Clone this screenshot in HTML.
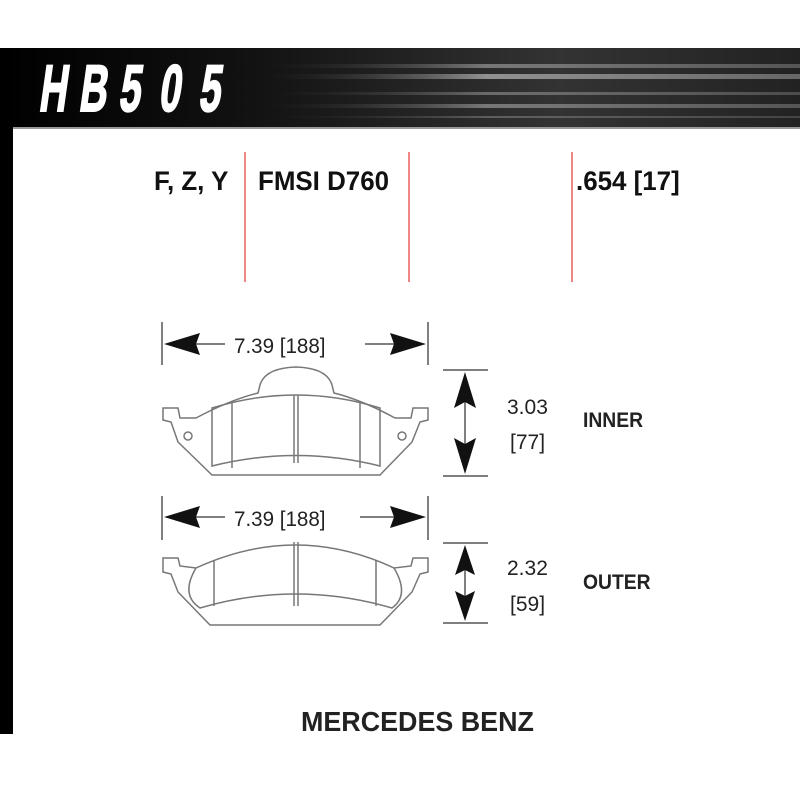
<!DOCTYPE html>
<html><head><meta charset="utf-8"><style>
html,body{margin:0;padding:0;background:#fff}
svg{display:block}
text{font-family:"Liberation Sans",sans-serif}
</style></head><body>
<svg width="800" height="800" viewBox="0 0 800 800" xmlns="http://www.w3.org/2000/svg">
<defs>
<linearGradient id="g" x1="0" y1="0" x2="1" y2="0">
<stop offset="0" stop-color="#000"/><stop offset="0.3" stop-color="#111"/><stop offset="0.7" stop-color="#333"/><stop offset="1" stop-color="#222"/>
</linearGradient>
<linearGradient id="s" x1="0" y1="0" x2="1" y2="0">
<stop offset="0" stop-color="#000" stop-opacity="0"/><stop offset="0.45" stop-color="#aaa"/><stop offset="1" stop-color="#777"/>
</linearGradient>
</defs>
<rect x="0" y="48" width="800" height="80" fill="url(#g)"/>
<rect x="230" y="64" width="570" height="4" fill="url(#s)" opacity="0.6"/>
<rect x="230" y="74" width="570" height="5" fill="url(#s)" opacity="0.8"/>
<rect x="230" y="92" width="570" height="3" fill="url(#s)" opacity="0.5"/>
<rect x="230" y="104" width="570" height="4" fill="url(#s)" opacity="0.6"/>
<rect x="230" y="116" width="570" height="2" fill="url(#s)" opacity="0.4"/>
<rect x="0" y="48" width="13" height="686" fill="#000"/>
<rect x="13" y="127" width="787" height="2" fill="#999"/>
<g fill="#fff" stroke="#fff" stroke-width="2" font-weight="bold" font-size="66">
<text transform="translate(38,111) skewX(-8) scale(0.58,1)">H</text>
<text transform="translate(78,111) skewX(-8) scale(0.58,1)">B</text>
<text transform="translate(118,111) skewX(-8) scale(0.58,1)">5</text>
<text transform="translate(158,111) skewX(-8) scale(0.58,1)">0</text>
<text transform="translate(198,111) skewX(-8) scale(0.58,1)">5</text>
</g>
<g font-weight="bold" font-size="27" fill="#111">
<text transform="translate(154,190) scale(0.96,1)">F, Z, Y</text>
<text transform="translate(258,190) scale(0.96,1)">FMSI D760</text>
<text transform="translate(576,190) scale(0.96,1)">.654 [17]</text>
</g>
<g stroke="#e88" stroke-width="2">
<line x1="245" y1="152" x2="245" y2="282"/>
<line x1="409" y1="152" x2="409" y2="282"/>
<line x1="572" y1="152" x2="572" y2="282"/>
</g>
<g stroke="#555" stroke-width="1.5" fill="none">
<line x1="162" y1="322" x2="162" y2="365"/><line x1="428" y1="322" x2="428" y2="365"/>
<line x1="162" y1="496" x2="162" y2="540"/><line x1="428" y1="496" x2="428" y2="540"/>
<line x1="195" y1="344" x2="225" y2="344"/><line x1="365" y1="344" x2="400" y2="344"/>
<line x1="195" y1="517" x2="225" y2="517"/><line x1="360" y1="517" x2="400" y2="517"/>
<line x1="443" y1="370" x2="488" y2="370"/><line x1="443" y1="476" x2="488" y2="476"/>
<line x1="443" y1="543" x2="488" y2="543"/><line x1="443" y1="623" x2="488" y2="623"/>
<line x1="465" y1="395" x2="465" y2="450"/><line x1="465" y1="565" x2="465" y2="600"/>
</g>
<g fill="#111">
<polygon points="164,344 200,333 196,344 200,355"/>
<polygon points="426,344 390,333 394,344 390,355"/>
<polygon points="164,517 200,506 196,517 200,528"/>
<polygon points="426,517 390,506 394,517 390,528"/>
<polygon points="465,372 454,408 465,402 476,408"/>
<polygon points="465,474 454,438 465,444 476,438"/>
<polygon points="465,545 455,575 465,570 475,575"/>
<polygon points="465,621 455,591 465,596 475,591"/>
</g>
<g font-size="21" fill="#222">
<text transform="translate(234,353) scale(0.98,1)">7.39 [188]</text>
<text transform="translate(234,526) scale(0.98,1)">7.39 [188]</text>
<text x="507" y="414">3.03</text><text x="510" y="449">[77]</text>
<text x="507" y="575">2.32</text><text x="510" y="611">[59]</text>
</g>
<g font-weight="bold" font-size="21" fill="#222">
<text transform="translate(583,427) scale(0.92,1)">INNER</text>
<text transform="translate(583,589) scale(0.92,1)">OUTER</text>
<text transform="translate(301,731) scale(0.96,1)" font-size="28">MERCEDES BENZ</text>
</g>
<g stroke="#777" stroke-width="1.5" fill="none">
<path d="M163,408 L178,408 L180,418 L196,418 Q230,400 258,393 L260,385 Q265,368 296,367 Q327,368 332,385 L334,393 Q362,400 395,418 L411,418 L413,408 L428,408 L428,420 L420,422 L412,442 L380,475 L212,475 L178,442 L171,422 L163,420 Z"/>
<path d="M212,408 Q296,382 380,408 L380,466 Q296,445 212,466 Z"/>
<line x1="232" y1="403" x2="232" y2="468"/>
<line x1="294" y1="395" x2="294" y2="463"/><line x1="298" y1="395" x2="298" y2="463"/>
<line x1="360" y1="403" x2="360" y2="468"/>
<circle cx="188" cy="436" r="4"/><circle cx="402" cy="436" r="4"/>
</g>
<g stroke="#777" stroke-width="1.5" fill="none">
<path d="M163,558 L178,558 L180,566 L196,568 Q296,522 394,568 L411,566 L413,558 L428,558 L428,572 L420,574 L412,592 L380,625 L210,625 L178,592 L171,574 L163,572 Z"/>
<path d="M196,568 Q180,595 200,608 Q296,580 392,608 Q410,595 394,568"/>
<line x1="214" y1="560" x2="214" y2="606"/>
<line x1="294" y1="542" x2="294" y2="606"/><line x1="298" y1="542" x2="298" y2="606"/>
<line x1="376" y1="560" x2="376" y2="606"/>
</g>
</svg>
</body></html>
